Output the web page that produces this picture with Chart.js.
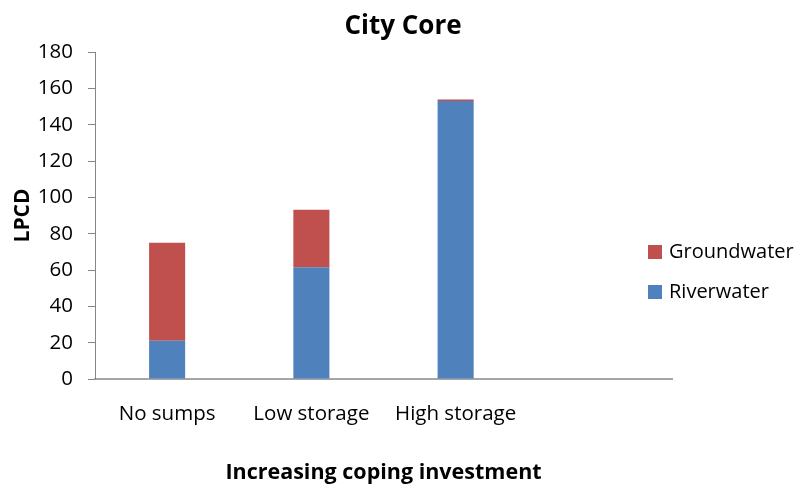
<!DOCTYPE html>
<html>
<head>
<meta charset="utf-8">
<script src="https://cdn.jsdelivr.net/npm/chart.js@4/dist/chart.umd.min.js"></script>
<style>
  html, body { margin: 0; padding: 0; background: #ffffff; }
  #wrap { width: 802px; height: 488px; position: relative; }
</style>
</head>
<body>
<div id="wrap"><canvas id="c" width="802" height="488"></canvas></div>
<script>
const chartTitle = 'City Core';
const categories = ['No sumps', 'Low storage', 'High storage', ''];
const riverwater = [21, 61.5, 153, null];
const groundwater = [54, 31.7, 0.8, null];
const yTicks = [0, 20, 40, 60, 80, 100, 120, 140, 160, 180];
const yTitle = 'LPCD';
const xTitle = 'Increasing coping investment';

const FONT = "'Open Sans', 'DejaVu Sans', sans-serif";

const customDraw = {
  id: 'customDraw',
  afterDraw(chart) {
    const ctx = chart.ctx;
    ctx.save();
    // Title
    ctx.fillStyle = '#000';
    ctx.font = "bold 26px " + FONT;
    ctx.textAlign = 'center';
    ctx.textBaseline = 'alphabetic';
    ctx.fillText(chartTitle, 403, 34);
    // Legend (Groundwater first, then Riverwater)
    const items = [chart.data.datasets[1], chart.data.datasets[0]];
    ctx.font = "20px " + FONT;
    ctx.textAlign = 'left';
    ctx.textBaseline = 'middle';
    items.forEach((ds, i) => {
      const y = 245 + i * 40;
      ctx.fillStyle = ds.backgroundColor;
      ctx.fillRect(648, y, 14, 14);
      ctx.fillStyle = '#000';
      ctx.fillText(ds.label, 669, y + 7);
    });
    ctx.restore();
  }
};

new Chart(document.getElementById('c'), {
  type: 'bar',
  data: {
    labels: categories,
    datasets: [
      { label: 'Riverwater', data: riverwater, backgroundColor: '#4F81BD', borderWidth: 0,
        categoryPercentage: 1.0, barPercentage: 0.25 },
      { label: 'Groundwater', data: groundwater, backgroundColor: '#C0504D', borderWidth: 0,
        categoryPercentage: 1.0, barPercentage: 0.25 }
    ]
  },
  options: {
    responsive: false,
    animation: false,
    layout: { padding: { top: 52, right: 130, left: 0, bottom: 0 } },
    plugins: {
      legend: { display: false },
      title: { display: false },
      tooltip: { enabled: false }
    },
    scales: {
      x: {
        stacked: true,
        grid: { display: false },
        border: { display: true, color: '#a6a6a6', width: 2 },
        ticks: { color: '#000', font: { family: FONT, size: 20.5 }, padding: 15, maxRotation: 0, autoSkip: false },
        title: { display: true, text: xTitle, color: '#000',
                 font: { family: FONT, size: 21.5, weight: 'bold' }, padding: { top: 0, bottom: 2 } },
        afterFit(scale) { scale.height = 109; }
      },
      y: {
        stacked: true,
        min: 0, max: 180,
        afterBuildTicks(scale) { scale.ticks = yTicks.map(v => ({ value: v })); },
        grid: { drawOnChartArea: false, drawTicks: true, tickLength: 7, color: '#868686' },
        border: { display: true, color: '#868686', width: 1 },
        ticks: { color: '#000', font: { family: FONT, size: 20.5 }, padding: 15 },
        title: { display: true, text: yTitle, color: '#000',
                 font: { family: FONT, size: 21, weight: 'bold' }, padding: { top: 10, bottom: 0 } },
        afterFit(scale) { scale.width = 95; }
      }
    }
  },
  plugins: [customDraw]
});
</script>
</body>
</html>
